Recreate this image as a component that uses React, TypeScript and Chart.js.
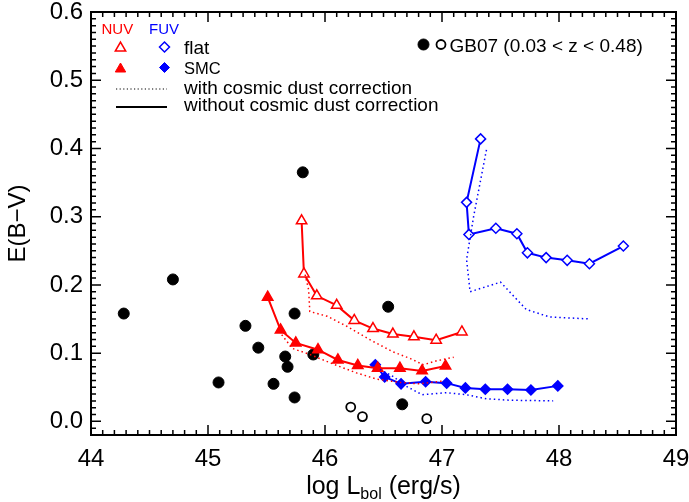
import React, { useEffect, useRef } from 'react';
import { Chart, registerables } from 'chart.js';

Chart.register(...registerables);

// ---------- data ----------
const xTicks = [44, 45, 46, 47, 48, 49];
const yTicks = [0.0, 0.1, 0.2, 0.3, 0.4, 0.5, 0.6];

const gbFilledX = [44.28, 44.70, 45.81, 45.32, 45.43, 45.74, 45.66, 45.68, 45.90, 45.09, 45.56, 45.74, 46.54, 46.66];
const gbFilledY = [0.158, 0.208, 0.365, 0.140, 0.108, 0.158, 0.095, 0.080, 0.098, 0.057, 0.055, 0.035, 0.168, 0.025];
const gbOpenX = [46.22, 46.32, 46.87];
const gbOpenY = [0.021, 0.007, 0.004];

const nuvFlatX = [45.80, 45.82, 45.93, 46.10, 46.25, 46.41, 46.58, 46.76, 46.95, 47.17];
const nuvFlatY = [0.294, 0.216, 0.184, 0.170, 0.148, 0.136, 0.128, 0.124, 0.119, 0.131];
const nuvFlatCorrX = [45.83, 45.86, 45.87, 46.02, 46.19, 46.39, 46.58, 46.73, 46.84, 46.96, 47.10];
const nuvFlatCorrY = [0.215, 0.193, 0.161, 0.154, 0.139, 0.119, 0.102, 0.092, 0.083, 0.089, 0.094];

const nuvSmcX = [45.51, 45.62, 45.75, 45.94, 46.11, 46.28, 46.45, 46.64, 46.83, 47.03];
const nuvSmcY = [0.182, 0.134, 0.115, 0.105, 0.090, 0.082, 0.078, 0.078, 0.074, 0.081];
const nuvSmcCorrX = [45.63, 45.72, 45.87, 46.10, 46.27, 46.44, 46.64, 46.81, 47.00];
const nuvSmcCorrY = [0.127, 0.107, 0.098, 0.082, 0.071, 0.062, 0.057, 0.055, 0.059];

const fuvFlatX = [47.33, 47.21, 47.23, 47.46, 47.64, 47.73, 47.89, 48.07, 48.26, 48.55];
const fuvFlatY = [0.414, 0.321, 0.274, 0.283, 0.275, 0.247, 0.240, 0.236, 0.231, 0.257];
const fuvFlatCorrX = [47.38, 47.27, 47.21, 47.24, 47.50, 47.72, 47.92, 48.27];
const fuvFlatCorrY = [0.398, 0.300, 0.237, 0.190, 0.204, 0.164, 0.153, 0.150];

const fuvSmcX = [46.43, 46.51, 46.65, 46.86, 47.04, 47.20, 47.37, 47.56, 47.76, 47.99];
const fuvSmcY = [0.083, 0.065, 0.055, 0.058, 0.056, 0.049, 0.047, 0.047, 0.046, 0.052];
const fuvSmcCorrX = [46.47, 46.58, 46.70, 46.83, 47.04, 47.21, 47.38, 47.58, 47.95];
const fuvSmcCorrY = [0.076, 0.066, 0.051, 0.039, 0.042, 0.039, 0.033, 0.031, 0.030];

const legendBands = ['NUV', 'FUV'];
const legendRows = ['flat', 'SMC', 'with cosmic dust correction', 'without cosmic dust correction'];
const gbLabel = 'GB07 (0.03 < z < 0.48)';
const yTitle = 'E(B\u2212V)';

const RED = '#ff0000';
const BLUE = '#0000ff';
const FONT = '"Liberation Sans", Arial, Helvetica, sans-serif';

const pts = (xs: number[], ys: number[]) => xs.map((x, i) => ({ x, y: ys[i] }));

function drawMarker(ctx: CanvasRenderingContext2D, style: string, x: number, y: number, r: number, fill: string, stroke: string, lw: number) {
  ctx.beginPath();
  if (style === 'triangle') {
    let rad = 0;
    ctx.moveTo(x + Math.sin(rad) * r, y - Math.cos(rad) * r);
    rad += (2 * Math.PI) / 3;
    ctx.lineTo(x + Math.sin(rad) * r, y - Math.cos(rad) * r);
    rad += (2 * Math.PI) / 3;
    ctx.lineTo(x + Math.sin(rad) * r, y - Math.cos(rad) * r);
    ctx.closePath();
  } else if (style === 'rectRot') {
    ctx.moveTo(x - r, y);
    ctx.lineTo(x, y - r);
    ctx.lineTo(x + r, y);
    ctx.lineTo(x, y + r);
    ctx.closePath();
  } else {
    ctx.arc(x, y, r, 0, Math.PI * 2);
  }
  ctx.fillStyle = fill;
  ctx.fill();
  ctx.lineWidth = lw;
  ctx.strokeStyle = stroke;
  ctx.stroke();
}

const decorPlugin = {
  id: 'decor',
  afterDraw(chart: any) {
    const { ctx, chartArea: a, scales } = chart;
    const xs = scales.x;
    const ys = scales.y;
    ctx.save();
    // inward ticks on all four sides
    ctx.strokeStyle = '#000';
    ctx.lineWidth = 1.5;
    ctx.beginPath();
    const x0 = xTicks[0];
    const x1 = xTicks[xTicks.length - 1];
    const nx = Math.round((x1 - x0) * 10);
    for (let i = 0; i <= nx; i++) {
      const px = xs.getPixelForValue(x0 + i * 0.1);
      const len = i % 10 === 0 ? 10 : 5;
      ctx.moveTo(px, a.bottom);
      ctx.lineTo(px, a.bottom - len);
      ctx.moveTo(px, a.top);
      ctx.lineTo(px, a.top + len);
    }
    for (let i = -2; i <= 60; i++) {
      const py = ys.getPixelForValue(i * 0.01);
      const len = i % 10 === 0 ? 10 : 5;
      ctx.moveTo(a.left, py);
      ctx.lineTo(a.left + len, py);
      ctx.moveTo(a.right, py);
      ctx.lineTo(a.right - len, py);
    }
    ctx.stroke();
    ctx.lineWidth = 2;
    ctx.strokeRect(a.left, a.top, a.right - a.left, a.bottom - a.top);

    // legend
    ctx.textBaseline = 'alphabetic';
    ctx.textAlign = 'left';
    ctx.font = `15px ${FONT}`;
    ctx.fillStyle = RED;
    ctx.fillText(legendBands[0], 101.5, 33.5);
    ctx.fillStyle = BLUE;
    ctx.fillText(legendBands[1], 149, 33.5);

    drawMarker(ctx, 'triangle', 120.5, 48, 6, '#fff', RED, 1.5);
    drawMarker(ctx, 'rectRot', 164.5, 47, 5, '#fff', BLUE, 1.5);
    drawMarker(ctx, 'triangle', 120.5, 69, 6, RED, RED, 1);
    drawMarker(ctx, 'rectRot', 164.5, 67.5, 5, BLUE, BLUE, 1);

    ctx.fillStyle = '#000';
    ctx.font = `19px ${FONT}`;
    ctx.fillText(legendRows[0], 184, 53.5);
    ctx.font = `16.5px ${FONT}`;
    ctx.fillText(legendRows[1], 184, 74);
    ctx.font = `19px ${FONT}`;
    ctx.fillText(legendRows[2], 184, 94);
    ctx.fillText(legendRows[3], 184, 111);

    ctx.strokeStyle = '#000';
    ctx.lineWidth = 1.2;
    ctx.setLineDash([1.2, 2.4]);
    ctx.beginPath();
    ctx.moveTo(116, 89);
    ctx.lineTo(167, 89);
    ctx.stroke();
    ctx.setLineDash([]);
    ctx.lineWidth = 2;
    ctx.beginPath();
    ctx.moveTo(116, 107);
    ctx.lineTo(167, 107);
    ctx.stroke();

    drawMarker(ctx, 'circle', 423.5, 44.5, 5.5, '#000', '#000', 1);
    drawMarker(ctx, 'circle', 441, 44.5, 4.5, '#fff', '#000', 1.8);
    ctx.fillStyle = '#000';
    ctx.font = `19px ${FONT}`;
    ctx.fillText(gbLabel, 449.5, 51.5);

    // x-axis title with subscript
    const mainF = `25px ${FONT}`;
    const subF = `16px ${FONT}`;
    const p1 = 'log L';
    const p2 = 'bol';
    const p3 = ' (erg/s)';
    ctx.font = mainF;
    const w1 = ctx.measureText(p1).width;
    const w3 = ctx.measureText(p3).width;
    ctx.font = subF;
    const w2 = ctx.measureText(p2).width;
    const total = w1 + w2 + w3;
    let tx = (a.left + a.right) / 2 - total / 2;
    const base = 494;
    ctx.font = mainF;
    ctx.fillText(p1, tx, base);
    tx += w1;
    ctx.font = subF;
    ctx.fillText(p2, tx, base + 5);
    tx += w2;
    ctx.font = mainF;
    ctx.fillText(p3, tx, base);
    ctx.restore();
  },
};

export default function App() {
  const ref = useRef<HTMLCanvasElement | null>(null);

  useEffect(() => {
    const canvas = ref.current;
    if (!canvas) return;
    const dotted = (data: any, color: string) => ({
      data,
      showLine: true,
      borderColor: color,
      borderWidth: 1.5,
      borderDash: [1.5, 3],
      pointRadius: 0,
      pointHoverRadius: 0,
      fill: false,
    });
    const solid = (data: any, color: string, style: string, filled: boolean, r: number) => ({
      data,
      showLine: true,
      borderColor: color,
      borderWidth: 2,
      pointStyle: style,
      pointRadius: r,
      pointHoverRadius: r,
      pointBackgroundColor: filled ? color : '#ffffff',
      pointBorderColor: color,
      pointBorderWidth: 1.5,
      fill: false,
    });
    const chart = new Chart(canvas, {
      type: 'scatter',
      data: {
        datasets: [
          dotted(pts(nuvFlatCorrX, nuvFlatCorrY), RED),
          dotted(pts(nuvSmcCorrX, nuvSmcCorrY), RED),
          dotted(pts(fuvFlatCorrX, fuvFlatCorrY), BLUE),
          dotted(pts(fuvSmcCorrX, fuvSmcCorrY), BLUE),
          solid(pts(nuvFlatX, nuvFlatY), RED, 'triangle', false, 6),
          solid(pts(nuvSmcX, nuvSmcY), RED, 'triangle', true, 6),
          solid(pts(fuvFlatX, fuvFlatY), BLUE, 'rectRot', false, 5),
          solid(pts(fuvSmcX, fuvSmcY), BLUE, 'rectRot', true, 5),
          {
            data: pts(gbFilledX, gbFilledY),
            pointStyle: 'circle',
            pointRadius: 5.5,
            pointBackgroundColor: '#000',
            pointBorderColor: '#000',
            pointBorderWidth: 1,
          },
          {
            data: pts(gbOpenX, gbOpenY),
            pointStyle: 'circle',
            pointRadius: 4.5,
            pointBackgroundColor: '#fff',
            pointBorderColor: '#000',
            pointBorderWidth: 1.8,
          },
        ] as any,
      },
      options: {
        animation: false,
        responsive: false,
        events: [],
        layout: { padding: { top: 12, right: 13, left: 0, bottom: 0 } },
        plugins: { legend: { display: false }, tooltip: { enabled: false }, title: { display: false } },
        scales: {
          x: {
            type: 'linear',
            min: xTicks[0],
            max: xTicks[xTicks.length - 1],
            grid: { display: false, drawTicks: false, tickLength: 0 },
            border: { display: false },
            afterBuildTicks: (s: any) => {
              s.ticks = xTicks.map((v) => ({ value: v }));
            },
            afterFit: (s: any) => {
              s.height = 67;
              s.paddingLeft = 0;
              s.paddingRight = 0;
            },
            ticks: {
              color: '#000',
              font: { size: 24, family: FONT },
              padding: 10,
              maxRotation: 0,
              autoSkip: false,
              callback: (v: any) => String(v),
            },
          },
          y: {
            type: 'linear',
            min: -0.02,
            max: 0.6,
            grid: { display: false, drawTicks: false, tickLength: 0 },
            border: { display: false },
            afterBuildTicks: (s: any) => {
              s.ticks = yTicks.map((v) => ({ value: v }));
            },
            afterFit: (s: any) => {
              s.width = 91;
              s.paddingTop = 0;
              s.paddingBottom = 0;
            },
            title: {
              display: true,
              text: yTitle,
              color: '#000',
              font: { size: 24, family: FONT },
              padding: { top: 4, bottom: 0 },
            },
            ticks: {
              color: '#000',
              font: { size: 24, family: FONT },
              padding: 8,
              autoSkip: false,
              callback: (v: any) => Number(v).toFixed(1),
            },
          },
        },
      } as any,
      plugins: [decorPlugin],
    });
    return () => chart.destroy();
  }, []);

  return (
    <div style={{ position: 'fixed', left: 0, top: 0, width: 689, height: 502, background: '#fff' }}>
      <canvas ref={ref} width={689} height={502} />
    </div>
  );
}
